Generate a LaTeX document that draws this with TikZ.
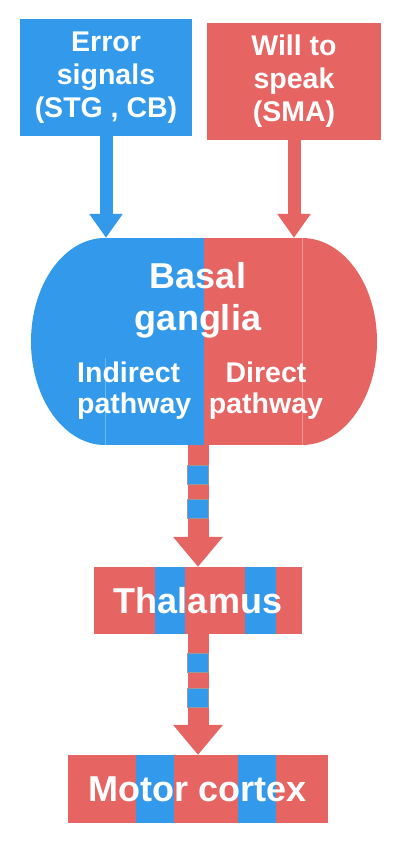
\documentclass[tikz,border=0pt]{standalone}
\usepackage{fontspec}
\setmainfont{Liberation Sans}
\usetikzlibrary{arrows.meta}
\definecolor{cblue}{RGB}{50,153,235}
\definecolor{cred}{RGB}{230,100,98}
\begin{document}
\begin{tikzpicture}[x=1pt,y=-1pt,
  topbox/.style={text=white, font=\bfseries\fontsize{28.5}{33}\selectfont, align=center, inner sep=0pt},
  bgtitle/.style={text=white, font=\bfseries\fontsize{36}{42}\selectfont, align=center, inner sep=0pt},
  bgsub/.style={text=white, font=\bfseries\fontsize{28.5}{31}\selectfont, align=center, inner sep=0pt},
  bigtxt/.style={text=white, font=\bfseries\fontsize{36}{42}\selectfont, inner sep=0pt},
  seam/.style={line width=0.8pt},
  sq/.style={minimum width=21pt, minimum height=19pt, fill=cblue, draw=gray!80, line width=0.6pt, inner sep=0pt},
  thinarrow/.style={line width=13pt, -{Triangle[width=32pt,length=24pt]}},
  thickarrow/.style={cred, line width=21pt, -{Triangle[width=48pt,length=30pt]}}
]
\useasboundingbox (0,0) rectangle (400,842);
\fill[white] (0,0) rectangle (400,842);

% top boxes
\node[topbox, fill=cblue, minimum width=172pt, minimum height=117pt] (err) at (106,77.5) {Error\\signals\\(STG , CB)};
\node[topbox, fill=cred, minimum width=174pt, minimum height=117pt] (will) at (294,81.5) {Will to\\speak\\(SMA)};

% basal ganglia
\node[minimum width=197pt, minimum height=207pt, inner sep=0pt] (bg) at (203.5,341.5) {};
\fill[cblue] (105,341.5) ellipse [x radius=74, y radius=103.5];
\fill[cred] (302,341.5) ellipse [x radius=75, y radius=103.5];
\fill[cblue] (bg.north west) rectangle (bg.south);
\fill[cred] (bg.north) rectangle (bg.south east);
\draw[seam, cblue!70!white] (105,358) -- (105,445);
\draw[seam, cred!70!white] (302,238) -- (302,445);
\node[bgtitle] (bgname) at (198,300) {Basal\\ganglia};
\node[bgsub, align=left, anchor=west] (ind) at (77,390.3) {Indirect\\pathway};
\node[bgsub] (dir) at (266,390.3) {Direct\\pathway};

% arrows from top boxes
\draw[cblue, thinarrow] (err.south) -- (err.south |- bg.north);
\draw[cred, thinarrow] (will.south) -- (will.south |- bg.north);

% thalamus
\node[minimum width=208pt, minimum height=67pt, fill=cred, inner sep=0pt] (thal) at (198,600.5) {};
\fill[cblue] (155,567) rectangle (185,634);
\fill[cblue] (245,567) rectangle (276,634);
\node[bigtxt] (thaltxt) at (thal) {Thalamus};

% motor cortex
\node[minimum width=260pt, minimum height=68pt, fill=cred, inner sep=0pt] (motor) at (198,789) {};
\fill[cblue] (136,755) rectangle (174,823);
\fill[cblue] (238,755) rectangle (276,823);
\node[bigtxt] (motortxt) at (motor) {Motor cortex};

% connectors
\draw[thickarrow] (thal.north |- bg.south) -- (thal.north);
\draw[thickarrow] (thal.south) -- (motor.north);
\node[sq] (s1) at (198,474.5) {};
\node[sq] (s2) at (198,508.5) {};
\node[sq] (s3) at (198,663) {};
\node[sq] (s4) at (198,697.5) {};
\end{tikzpicture}
\end{document}
